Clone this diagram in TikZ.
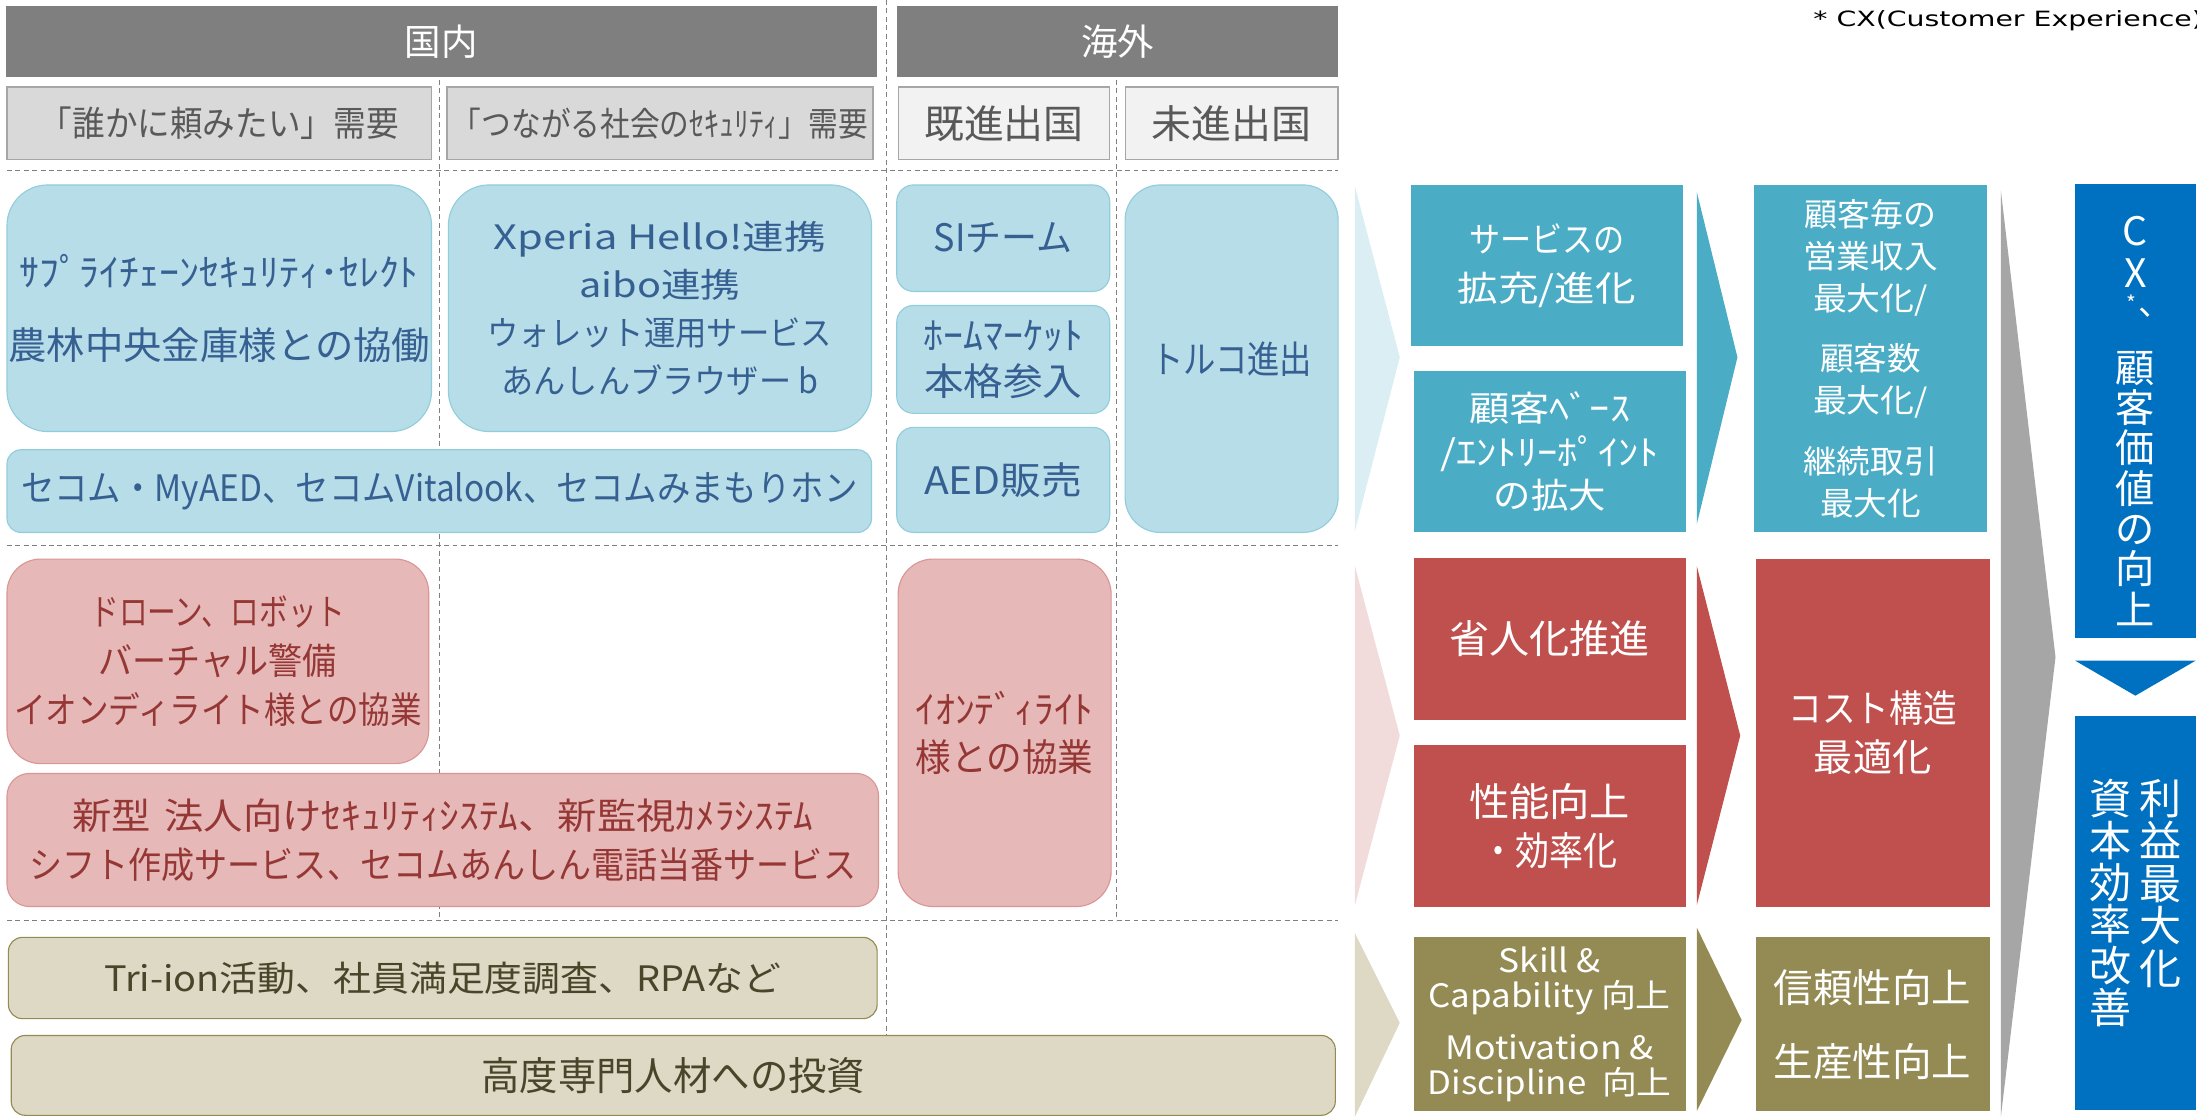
\documentclass[tikz,border=0pt]{standalone}
\usepackage{fontspec}
\usepackage{graphicx}
\setmainfont{Noto Sans CJK JP}
\newfontfamily\latfont{DejaVu Sans}
\lineskiplimit=-100pt
\lineskip=0pt
\newcommand\fw[2]{\resizebox{#1pt}{\height}{#2}}
\newcommand\fs[2]{\fontsize{#1}{#2}\selectfont}
\definecolor{hdrgray}{HTML}{7F7F7F}
\definecolor{subgray}{HTML}{D9D9D9}
\definecolor{sublight}{HTML}{F2F2F2}
\definecolor{subborder}{HTML}{A6A6A6}
\definecolor{subtext}{HTML}{595959}
\definecolor{bfill}{HTML}{B7DDE8}
\definecolor{bborder}{HTML}{92CDDC}
\definecolor{btext}{HTML}{376092}
\definecolor{rfill}{HTML}{E6B9B8}
\definecolor{rborder}{HTML}{D99694}
\definecolor{rtext}{HTML}{953735}
\definecolor{ofill}{HTML}{DDD9C4}
\definecolor{oborder}{HTML}{948A54}
\definecolor{otext}{HTML}{4A452A}
\definecolor{lblue}{HTML}{DAEEF3}
\definecolor{lred}{HTML}{F2DCDB}
\definecolor{lbeige}{HTML}{DDD9C4}
\definecolor{rblue}{HTML}{4BACC6}
\definecolor{rred}{HTML}{C0504D}
\definecolor{rolive}{HTML}{948A54}
\definecolor{cgray}{HTML}{A6A6A6}
\definecolor{dblue}{HTML}{0070C0}
\definecolor{dashgray}{HTML}{7F7F7F}
\begin{document}
\begin{tikzpicture}[x=1pt,y=-1pt,
  txt/.style={align=center,inner sep=0pt},
  wt/.style={txt,text=white},
  bt/.style={txt,text=btext},
  rt/.style={txt,text=rtext},
  ot/.style={txt,text=otext},
  st/.style={txt,text=subtext},
  hdr/.style={fill=hdrgray},
  sub1/.style={fill=subgray,draw=subborder,line width=0.9pt},
  sub2/.style={fill=sublight,draw=subborder,line width=0.9pt},
  bb/.style={fill=bfill,draw=bborder,line width=0.8pt},
  rb/.style={fill=rfill,draw=rborder,line width=0.8pt},
  ob/.style={fill=ofill,draw=oborder,line width=0.8pt},
  dl/.style={draw=dashgray,line width=0.7pt,dash pattern=on 3.5pt off 2.5pt}]
\useasboundingbox[fill=white] (0,0) rectangle (1568,797);

% dashed grid
\draw[dl] (5,122) -- (955,122);
\draw[dl] (5,389) -- (955,389);
\draw[dl] (5,657) -- (955,657);
\draw[dl] (314,57) -- (314,657);
\draw[dl] (633,0) -- (633,739);
\draw[dl] (797,57) -- (797,657);

% headers
\path[hdr] (4,4) rectangle node[wt,font=\fs{26}{28}] (kokunai) {国内} (626,55);
\path[hdr] (640,4) rectangle node[wt,font=\fs{26}{28}] (kaigai) {海外} (955,55);
\draw[sub1] (5,62) rectangle node[st,font=\fs{25}{28}] (dem1) {\fw{256}{「誰かに頼みたい」需要}} (308,114);
\draw[sub1] (319,62) rectangle node[st,font=\fs{24}{28}] (dem2) {\fw{297}{「つながる社会のｾｷｭﾘﾃｨ」需要}} (623,114);
\draw[sub2] (641,62) rectangle node[st,font=\fs{28}{30}] (kishin) {\fw{114}{既進出国}} (792,114);
\draw[sub2] (803,62) rectangle node[st,font=\fs{28}{30}] (mishin) {\fw{114}{未進出国}} (955,114);

% row 1 (blue)
\draw[bb,rounded corners=29] (5,132) rectangle node[bt,font=\fs{27}{52}] (supply) {\fw{285}{ｻﾌﾟﾗｲﾁｪｰﾝｾｷｭﾘﾃｨ･ｾﾚｸﾄ}\\\fw{301}{農林中央金庫様との協働}} (308,308);
\draw[bb,rounded corners=29] (320,132) rectangle node[bt,font=\fs{24}{34.3}] (xperia) {\fw{237}{Xperia Hello!連携}\\\fw{115}{aibo連携}\\\fw{246}{ウォレット運用サービス}\\\fw{226}{あんしんブラウザー b}} (622,308);
\draw[bb,rounded corners=10] (5,321) rectangle node[bt,font=\fs{26}{30}] (secom) {\fw{597}{セコム・MyAED、セコムVitalook、セコムみまもりホン}} (622,380);
\draw[bb,rounded corners=12] (640,132) rectangle node[bt,font=\fs{27}{30}] (si) {\fw{99}{SIチーム}} (792,208);
\draw[bb,rounded corners=12] (640,218) rectangle node[bt,font=\fs{27}{33}] (home) {\fw{114}{ﾎｰﾑﾏｰｹｯﾄ}\\\fw{113}{本格参入}} (792,295);
\draw[bb,rounded corners=12] (640,305) rectangle node[bt,font=\fs{27}{30}] (aed) {\fw{113}{AED販売}} (792,380);
\draw[bb,rounded corners=25] (803,132) rectangle node[bt,font=\fs{27}{30}] (turkey) {\fw{115}{トルコ進出}} (955,380);

% row 2 (red)
\draw[rb,rounded corners=24] (5,399) rectangle node[rt,font=\fs{26}{35}] (drone) {\fw{182}{ドローン、ロボット}\\\fw{170}{バーチャル警備}\\\fw{291}{イオンディライト様との協業}} (306,545);
\draw[rb,rounded corners=16] (5,552) rectangle node[rt,font=\fs{26}{35}] (newsys) {\fw{529}{新型\hspace{9pt}法人向けｾｷｭﾘﾃｨｼｽﾃﾑ、新監視ｶﾒﾗｼｽﾃﾑ}\\\fw{590}{シフト作成サービス、セコムあんしん電話当番サービス}} (627,647);
\draw[rb,rounded corners=25] (641,399) rectangle node[rt,font=\fs{27}{34}] (aeon) {\fw{127}{ｲｵﾝﾃﾞｨﾗｲﾄ}\\\fw{127}{様との協業}} (793,647);

% row 3 (olive)
\draw[ob,rounded corners=10] (6,669) rectangle node[ot,font=\fs{25}{30}] (trion) {\fw{483}{Tri-ion活動、社員満足度調査、RPAなど}} (626,727);
\draw[ob,rounded corners=10] (8,739) rectangle node[ot,font=\fs{28}{30}] (kodo) {\fw{274}{高度専門人材への投資}} (953,796);

% light chevrons
\fill[lblue] (967,133) -- (999,255) -- (967,379) -- cycle;
\fill[lred] (967,404) -- (999,525) -- (967,646) -- cycle;
\fill[lbeige] (967,666) -- (999,730) -- (967,797) -- cycle;

% middle column
\path[fill=rblue] (1007,132) rectangle node[wt,font=\fs{25}{35}] (svc) {\fw{111}{サービスの}\\\fw{127}{拡充/進化}} (1201,247);
\path[fill=rblue] (1009,265) rectangle node[wt,font=\fs{25}{31}] (base) {\fw{115}{顧客ﾍﾞｰｽ}\\\fw{156}{/ｴﾝﾄﾘｰﾎﾟｲﾝﾄ}\\\fw{80}{の拡大}} (1203,380);
\path[fill=rred] (1009,398) rectangle node[wt,font=\fs{28}{30}] (shojin) {\fw{143}{省人化推進}} (1203,514);
\path[fill=rred] (1009,532) rectangle node[wt,font=\fs{28}{35}] (seino) {\fw{115}{性能向上}\\\fw{97}{・効率化}} (1203,647);
\path[fill=rolive] (1009,669) rectangle node[wt,font=\fs{23}{25}] (skill) {\fw{73}{Skill \&}\\\fw{173}{Capability 向上}\\[12.5pt]\fw{149}{Motivation \&}\\\fw{174}{Discipline~~向上}} (1203,793);

% middle chevrons
\fill[rblue] (1211,137) -- (1240,255) -- (1211,374) -- cycle;
\fill[rred] (1211,404) -- (1242,525) -- (1211,646) -- cycle;
\fill[rolive] (1211,662) -- (1243,728) -- (1211,793) -- cycle;

% results column
\path[fill=rblue] (1252,132) rectangle node[wt,font=\fs{23}{30}] (rev) {\fw{94}{顧客毎の}\\\fw{96}{営業収入}\\\fw{82}{最大化/}\\[13pt]\fw{72}{顧客数}\\\fw{82}{最大化/}\\[13pt]\fw{96}{継続取引}\\\fw{72}{最大化}} (1418,380);
\path[fill=rred] (1253,399) rectangle node[wt,font=\fs{27}{35}] (cost) {\fw{120}{コスト構造}\\\fw{84}{最適化}} (1420,647);
\path[fill=rolive] (1253,669) rectangle node[wt,font=\fs{28}{53}] (trust) {\fw{141}{信頼性向上}\\\fw{141}{生産性向上}} (1420,793);

% big gray chevron
\fill[cgray] (1428,136) -- (1467,469) -- (1428,797) -- cycle;

% right column
\fill[dblue] (1481,131) rectangle (1567,455);
\node[wt,font=\fs{28}{30}] (cxa) at (1524,180) {C\\X};
\node[wt,font=\fs{15}{16}] (cxast) at (1521,216) {*};
\node[wt,font=\fs{24}{26}] (cxcomma) at (1538,223) {、};
\node[wt,font=\fs{28}{28.8}] (cxb) at (1524,348.5) {顧\\客\\価\\値\\の\\向\\上};
\fill[dblue] (1481,471.5) -- (1567,471.5) -- (1524,496.5) -- cycle;
\fill[dblue] (1481,511) rectangle (1567,792);
\node[wt,font=\fs{30}{30.25}] (profit) at (1542,630.5) {利\\益\\最\\大\\化};
\node[wt,font=\fs{30}{29.8}] (capital) at (1506,644.5) {資\\本\\効\\率\\改\\善};

% note
\node[anchor=west,inner sep=0pt,text=black,font=\latfont\fs{15}{18}] (note) at (1294,15) {\fw{278}{* CX(Customer Experience)}};
\end{tikzpicture}
\end{document}
